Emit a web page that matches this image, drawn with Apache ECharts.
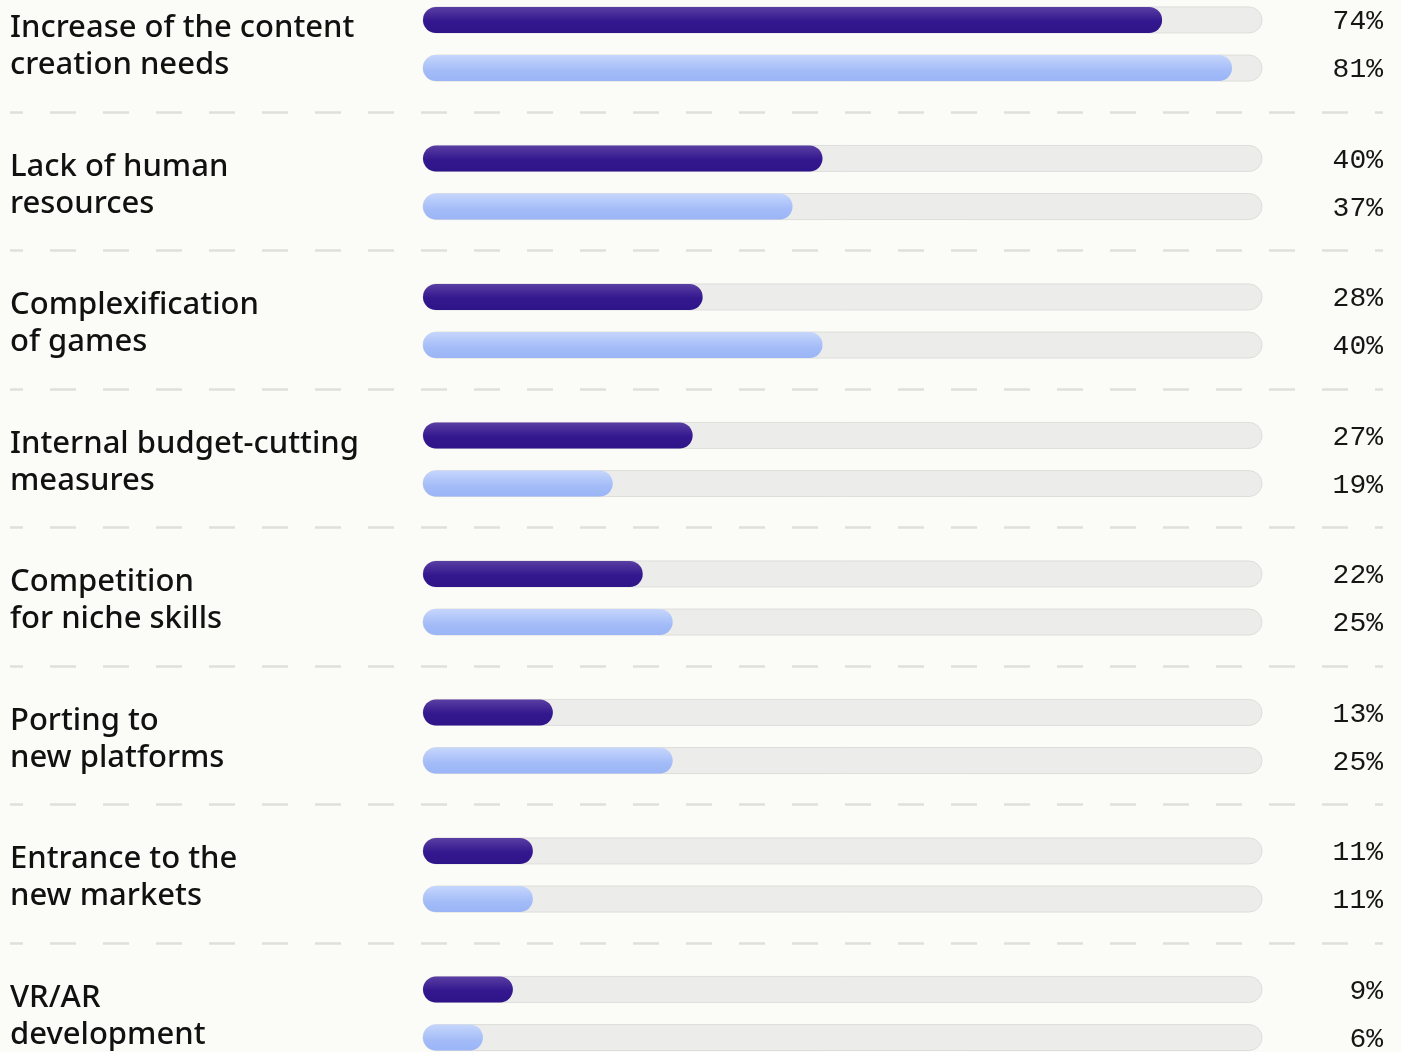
<!DOCTYPE html>
<html>
<head>
<meta charset="utf-8">
<script src="https://cdn.jsdelivr.net/npm/echarts@6/dist/echarts.min.js"></script>
<style>
html,body{margin:0;padding:0;background:#fbfbf7;overflow:hidden;width:1401px;height:1052px;}
#chart{width:1401px;height:1120px;margin-top:-30px;}
</style>
</head>
<body>
<div id="chart"></div>
<script>
const categories = [
  "Increase of the content\ncreation needs",
  "Lack of human\nresources",
  "Complexification\nof games",
  "Internal budget-cutting\nmeasures",
  "Competition\nfor niche skills",
  "Porting to\nnew platforms",
  "Entrance to the\nnew markets",
  "VR/AR\ndevelopment"
];
const seriesDark = [74, 40, 28, 27, 22, 13, 11, 9];
const seriesLight = [81, 37, 40, 19, 25, 25, 11, 6];

const chart = echarts.init(document.getElementById('chart'), null, {renderer: 'canvas'});

const GRID_H = 1108;

const darkGrad = new echarts.graphic.LinearGradient(0, 0, 0, 1, [
  {offset: 0, color: '#5a3fa3'},
  {offset: 0.55, color: '#33178e'},
  {offset: 1, color: '#2e1489'}
]);
const lightGrad = new echarts.graphic.LinearGradient(0, 0, 0, 1, [
  {offset: 0, color: '#c6d6fc'},
  {offset: 0.6, color: '#a3bcf8'},
  {offset: 1, color: '#9ab4f6'}
]);

const hiddenCat = {axisLine: {show: false}, axisTick: {show: false}, splitLine: {show: false}};

const option = {
  backgroundColor: '#fbfbf7',
  animation: false,
  grid: [
    {left: 423, width: 839, top: 4.75, height: GRID_H, containLabel: false},
    {left: 10, width: 1373, top: 3.5, height: GRID_H, containLabel: false},
    {left: 423, width: 839, top: 7.75, height: GRID_H, containLabel: false},
    {left: 423, width: 839, top: 6.75, height: GRID_H, containLabel: false}
  ],
  xAxis: [
    {type: 'value', gridIndex: 0, min: 0, max: 84, show: false},
    {type: 'value', gridIndex: 1, min: 0, max: 1, show: false},
    {type: 'value', gridIndex: 2, min: 0, max: 1, show: false},
    {type: 'value', gridIndex: 3, min: 0, max: 1, show: false}
  ],
  yAxis: [
    Object.assign({type: 'category', gridIndex: 0, data: categories, inverse: true, axisLabel: {show: false}}, hiddenCat),
    {
      type: 'category', gridIndex: 1, data: categories, inverse: true,
      axisLine: {show: false}, axisTick: {show: false}, axisLabel: {show: false},
      splitLine: {show: true, lineStyle: {color: '#dfdfdc', width: 2.5, type: [26, 27], dashOffset: 13}}
    },
    Object.assign({
      type: 'category', gridIndex: 2, data: categories, inverse: true, position: 'left',
      axisLabel: {
        align: 'left', margin: 413,
        fontFamily: '"Noto Sans", sans-serif', fontSize: 31, fontWeight: 500,
        color: '#111111', lineHeight: 37
      }
    }, hiddenCat),
    Object.assign({
      type: 'category', gridIndex: 3, data: categories, inverse: true, position: 'right',
      axisLabel: {
        align: 'right', margin: 121,
        fontFamily: '"Liberation Mono", monospace', fontSize: 28,
        color: '#161616', lineHeight: 48,
        formatter: function (v, i) { return seriesDark[i] + '%\n' + seriesLight[i] + '%'; }
      }
    }, hiddenCat)
  ],
  series: [
    {
      type: 'bar', name: 'dark', xAxisIndex: 0, yAxisIndex: 0, data: seriesDark,
      barWidth: 26, barGap: '85%',
      itemStyle: {color: darkGrad, borderRadius: 13},
      showBackground: true,
      backgroundStyle: {color: '#ececea', borderRadius: 13, borderColor: '#dededb', borderWidth: 1}
    },
    {
      type: 'bar', name: 'light', xAxisIndex: 0, yAxisIndex: 0, data: seriesLight,
      barWidth: 26, barGap: '85%',
      itemStyle: {color: lightGrad, borderRadius: 13},
      showBackground: true,
      backgroundStyle: {color: '#ececea', borderRadius: 13, borderColor: '#dededb', borderWidth: 1}
    },
    {type: 'scatter', xAxisIndex: 1, yAxisIndex: 1, data: [], silent: true},
    {type: 'scatter', xAxisIndex: 2, yAxisIndex: 2, data: [], silent: true},
    {type: 'scatter', xAxisIndex: 3, yAxisIndex: 3, data: [], silent: true}
  ]
};
chart.setOption(option);
</script>
</body>
</html>
